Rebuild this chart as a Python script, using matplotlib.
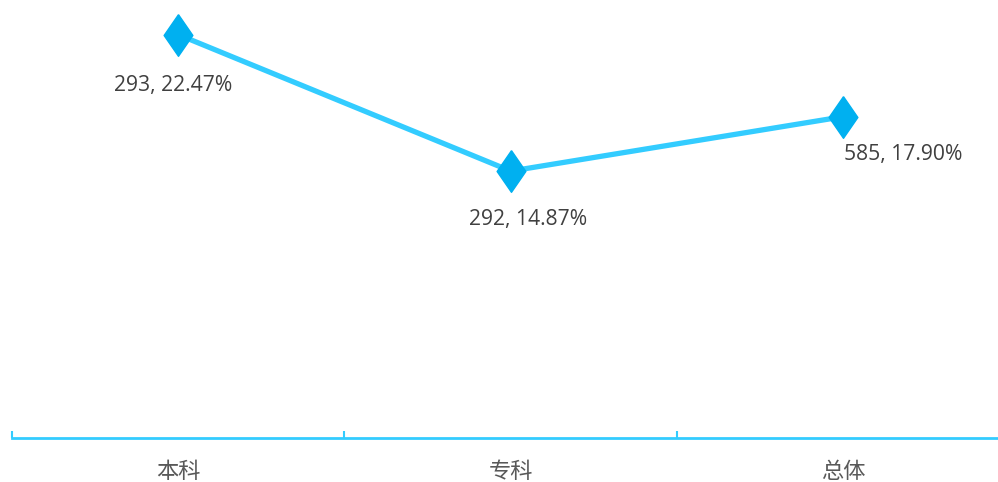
import matplotlib
matplotlib.use("Agg")
import matplotlib.pyplot as plt

plt.rcParams['font.family'] = ['Noto Sans CJK SC', 'DejaVu Sans']

# Data
categories = ['本科', '专科', '总体']
counts = [293, 292, 585]
rates = [22.47, 14.87, 17.90]
label_offsets = [(-5, -51), (17, -48), (60, -38)]  # pixels

line_color = '#33CCFF'
marker_color = '#00B0F0'

fig = plt.figure(figsize=(9.98, 4.82), dpi=100)
ax = fig.add_axes([12 / 998, 44 / 482, 997.5 / 998, 438 / 482])

x = list(range(len(categories)))
diamond = [(0, 1), (0.69, 0), (0, -1), (-0.69, 0), (0, 1)]
ax.plot(x, rates, color=line_color, lw=3.8, zorder=2)
ax.plot(x, rates, ls='none', marker=diamond, ms=30, color=marker_color,
        markeredgecolor=marker_color, zorder=3)

for xi, c, r, off in zip(x, counts, rates, label_offsets):
    ax.annotate(f'{c}, {r:.2f}%', (xi, r), xytext=off, textcoords='offset pixels',
                ha='center', va='center', fontsize=15.2, color='#404040',
                family=['Open Sans', 'DejaVu Sans'])

ax.set_xlim(-0.5, 2.5)
ax.set_ylim(0, 24.4)

for s in ['top', 'left', 'right']:
    ax.spines[s].set_visible(False)
ax.spines['bottom'].set_color(line_color)
ax.spines['bottom'].set_linewidth(2)

ax.set_yticks([])
ax.set_xticks([-0.5, 0.5, 1.5, 2.5], minor=False)
ax.set_xticklabels([])
ax.tick_params(axis='x', direction='in', length=5, width=1.5, color=line_color)
ax.set_xticks(x, minor=True)
ax.set_xticklabels(categories, minor=True)
ax.tick_params(axis='x', which='minor', length=0, pad=16, labelsize=16, labelcolor='#595959')

fig.savefig('out.png', dpi=100)
